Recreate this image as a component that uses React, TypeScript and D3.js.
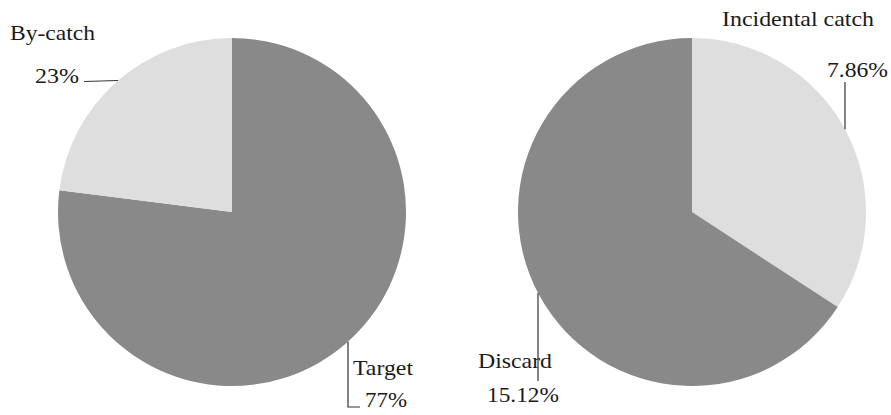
import React from "react";
import * as d3 from "d3";

// Catch composition, left pie
const leftCategories = ["Target", "By-catch"];
const leftValues = [77, 23];
const leftLabels = ["77%", "23%"];

// Catch composition, right pie
const rightCategories = ["Incidental catch", "Discard"];
const rightValues = [7.86, 15.12];
const rightLabels = ["7.86%", "15.12%"];

const WIDTH = 891;
const HEIGHT = 415;
const RADIUS = 174;
const DARK = "#898989";
const LIGHT = "#dedede";
const FONT = "'Liberation Serif', 'Times New Roman', serif";

type Datum = { name: string; value: number; color: string };

const pieGen = d3
  .pie<Datum>()
  .sort(null)
  .value((d) => d.value)
  .startAngle(0)
  .endAngle(2 * Math.PI);

const arcGen = d3.arc<d3.PieArcDatum<Datum>>().innerRadius(0).outerRadius(RADIUS);

// point on the rim at a given x (top or bottom half)
function rimAtX(cx: number, cy: number, x: number, below: boolean) {
  const dx = x - cx;
  const dy = Math.sqrt(Math.max(0, RADIUS * RADIUS - dx * dx));
  return [x, below ? cy + dy : cy - dy];
}
function rimAtY(cx: number, cy: number, y: number, left: boolean) {
  const dy = y - cy;
  const dx = Math.sqrt(Math.max(0, RADIUS * RADIUS - dy * dy));
  return [left ? cx - dx : cx + dx, y];
}

function Label({ x, y, text, len }: { x: number; y: number; text: string; len: number }) {
  return (
    <text
      x={x}
      y={y}
      fontFamily={FONT}
      fontSize={21}
      fill="#1a1a1a"
      textLength={len}
      lengthAdjust="spacingAndGlyphs"
    >
      {text}
    </text>
  );
}

export default function App() {
  const leftData: Datum[] = leftCategories.map((name, i) => ({
    name,
    value: leftValues[i],
    color: i === 0 ? DARK : LIGHT,
  }));
  const rightData: Datum[] = rightCategories.map((name, i) => ({
    name,
    value: rightValues[i],
    color: i === 0 ? LIGHT : DARK,
  }));

  const lc = { x: 232, y: 212 };
  const rc = { x: 692, y: 212 };

  const leftArcs = pieGen(leftData);
  const rightArcs = pieGen(rightData);

  // leader line anchors on the rims
  const byCatchRim = rimAtY(lc.x, lc.y, 80.5, true);
  const targetRim = rimAtX(lc.x, lc.y, 348, true);
  const discardRim = rimAtX(rc.x, rc.y, 538, true);
  const incidentalRim = rimAtX(rc.x, rc.y, 845, false);

  return (
    <svg
      width={WIDTH}
      height={HEIGHT}
      style={{ position: "absolute", left: 0, top: 0, background: "#fff" }}
    >
      <g transform={`translate(${lc.x},${lc.y})`}>
        {leftArcs.map((a) => (
          <path key={a.data.name} d={arcGen(a) || ""} fill={a.data.color} />
        ))}
      </g>
      <g transform={`translate(${rc.x},${rc.y})`}>
        {rightArcs.map((a) => (
          <path key={a.data.name} d={arcGen(a) || ""} fill={a.data.color} />
        ))}
      </g>

      <g stroke="#333" strokeWidth={1.2} fill="none">
        <polyline points={`84,81.5 ${byCatchRim[0]},${byCatchRim[1]}`} />
        <polyline points={`${targetRim[0]},${targetRim[1]} 348,407 360,407`} />
        <polyline points={`${discardRim[0]},${discardRim[1]} 538,381`} />
        <polyline points={`845,82 ${incidentalRim[0]},${incidentalRim[1]}`} />
      </g>

      <Label x={10} y={39.5} text={leftCategories[1]} len={85} />
      <Label x={35} y={82.5} text={leftLabels[1]} len={44} />
      <Label x={353} y={375} text={leftCategories[0]} len={60} />
      <Label x={365} y={407} text={leftLabels[0]} len={42} />

      <Label x={722} y={26} text={rightCategories[0]} len={152} />
      <Label x={827} y={76.5} text={rightLabels[0]} len={61} />
      <Label x={478} y={368} text={rightCategories[1]} len={74} />
      <Label x={487} y={401.5} text={rightLabels[1]} len={72} />
    </svg>
  );
}
